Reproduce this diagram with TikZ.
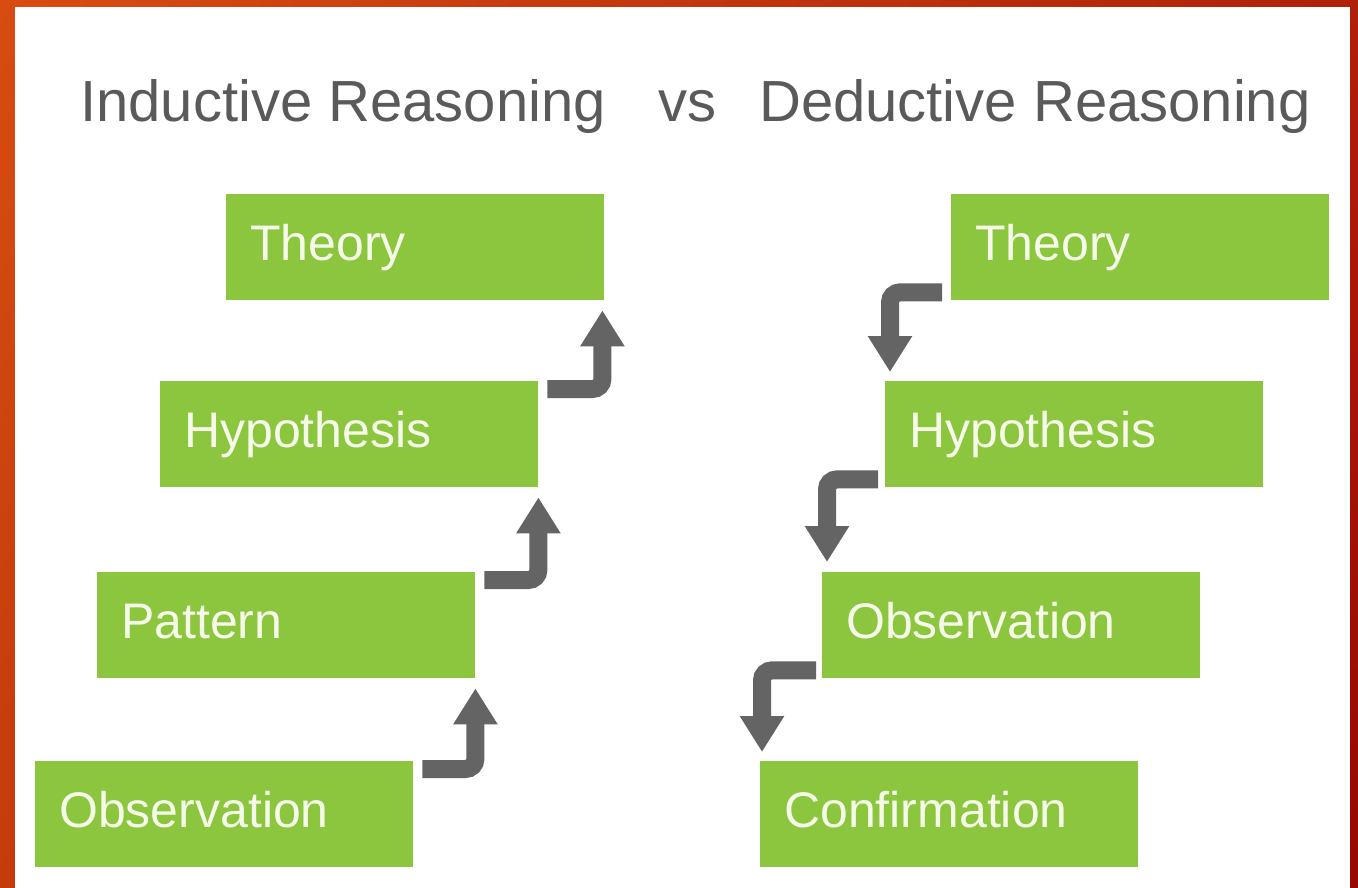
\documentclass[tikz,border=0pt]{standalone}
\usepackage{fontspec}
\setmainfont{Liberation Sans}
\usetikzlibrary{arrows.meta,calc,shadings}
\definecolor{boxgreen}{HTML}{8CC63F}
\definecolor{boxtext}{HTML}{F5FBE8}
\definecolor{arrowgray}{HTML}{646464}
\definecolor{titlegray}{HTML}{5A5A5A}
\definecolor{frameA}{HTML}{D84C12}
\definecolor{frameB}{HTML}{B0200A}
\definecolor{frameC}{HTML}{C63A0C}
\definecolor{frameD}{HTML}{960800}
\tikzset{
  stepbox/.style={rectangle, fill=boxgreen, anchor=north west, minimum width=378pt, minimum height=106pt,
    text width=330pt, inner xsep=24pt, inner ysep=0pt, align=left, text=boxtext,
    font=\fontsize{50}{50}\selectfont, text height=36pt, text depth=10pt},
  titletext/.style={anchor=base west, text=titlegray, font=\fontsize{58}{58}\selectfont, inner sep=0pt},
  flowarrow/.style={draw=arrowgray, line width=18pt, rounded corners=10pt,
    -{Triangle[width=42pt,length=36pt]}, arrowgray}
}
\begin{document}
\begin{tikzpicture}[x=1pt,y=-1pt]
\useasboundingbox (0,0) rectangle (1358,888);
\shade[upper left=frameA, upper right=frameB, lower left=frameC, lower right=frameD] (0,0) rectangle (1358,888);
\fill[white] (15,7) rectangle (1350,888);

\node[titletext] (t1) at (80,122) {Inductive Reasoning};
\node[titletext] (t2) at (658,122) {vs};
\node[titletext] (t3) at (759,122) {Deductive Reasoning};

% inductive
\node[stepbox] (thL) at (226,194) {Theory};
\node[stepbox] (hyL) at (160,381) {Hypothesis};
\node[stepbox] (paL) at (97,572) {Pattern};
\node[stepbox] (obL) at (35,761) {Observation};

% deductive
\node[stepbox] (thR) at (951,194) {Theory};
\node[stepbox] (hyR) at (885,381) {Hypothesis};
\node[stepbox] (obR) at (822,572) {Observation};
\node[stepbox] (coR) at (760,761) {Confirmation};

\draw[flowarrow] ($(obL.north east)+(9,8)$) -| ($(paL.south east)+(0,10)$);
\draw[flowarrow] ($(paL.north east)+(9,8)$) -| ($(hyL.south east)+(0,10)$);
\draw[flowarrow] ($(hyL.north east)+(9,8)$) -| ($(thL.south east)+(-2,10)$);

\draw[flowarrow] ($(thR.south west)+(-9,-8)$) -| ($(hyR.north west)+(5,-9)$);
\draw[flowarrow] ($(hyR.south west)+(-7,-8)$) -| ($(obR.north west)+(5,-10)$);
\draw[flowarrow] ($(obR.south west)+(-6,-8)$) -| ($(coR.north west)+(2,-9)$);
\end{tikzpicture}
\end{document}
